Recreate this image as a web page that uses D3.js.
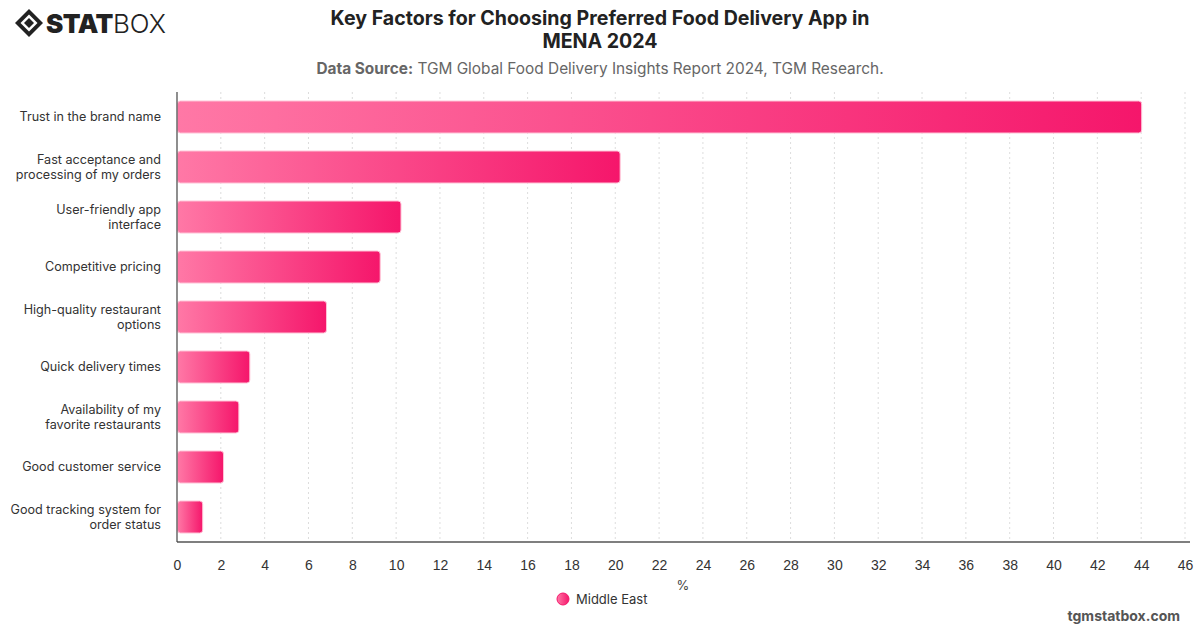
<!DOCTYPE html>
<html lang="en">
<head>
<meta charset="UTF-8">
<title>Key Factors for Choosing Preferred Food Delivery App in MENA 2024</title>
<script src="https://cdn.jsdelivr.net/npm/d3@7"></script>
<style>
    body { margin: 0; background: #fff; font-family: Inter, "Noto Sans", sans-serif; }
    .tick text { font-size: 14px; fill: #333; }
    .grid line { stroke: #ddd; stroke-dasharray: 2,3; }
</style>
</head>
<body>
<svg id="chart" width="1200" height="628"></svg>
<script>
    // data
    const categories = [
        "Trust in the brand name",
        "Fast acceptance and processing of my orders",
        "User-friendly app interface",
        "Competitive pricing",
        "High-quality restaurant options",
        "Quick delivery times",
        "Availability of my favorite restaurants",
        "Good customer service",
        "Good tracking system for order status"
    ];
    // label lines as wrapped in the picture
    const labelLines = [
        ["Trust in the brand name"],
        ["Fast acceptance and", "processing of my orders"],
        ["User-friendly app", "interface"],
        ["Competitive pricing"],
        ["High-quality restaurant", "options"],
        ["Quick delivery times"],
        ["Availability of my", "favorite restaurants"],
        ["Good customer service"],
        ["Good tracking system for", "order status"]
    ];
    const middleEast = [44.0, 20.2, 10.2, 9.25, 6.8, 3.3, 2.8, 2.1, 1.15];
    const xTicks = d3.range(0, 47, 2);

    const svg = d3.select("#chart");
    const margin = { top: 92, right: 10, bottom: 86, left: 177 };
    const width = 1200, height = 628;
    const innerW = width - margin.left - margin.right;
    const innerH = height - margin.top - margin.bottom;

    const x = d3.scaleLinear().domain([0, 46]).range([0, 1008]);
    const y = d3.scaleBand().domain(categories).range([0, innerH]).paddingInner(0.36).paddingOuter(0.18);

    // gradient
    const defs = svg.append("defs");
    const grad = defs.append("linearGradient")
        .attr("id", "barGrad")
        .attr("x1", "0%").attr("x2", "100%").attr("y1", "0%").attr("y2", "0%");
    grad.append("stop").attr("offset", "0%").attr("stop-color", "#ff78a6");
    grad.append("stop").attr("offset", "100%").attr("stop-color", "#f5166b");

    const g = svg.append("g").attr("transform", `translate(${margin.left},${margin.top})`);

    // grid
    g.append("g").attr("class", "grid")
        .selectAll("line").data(xTicks.slice(1)).enter().append("line")
        .attr("x1", d => x(d)).attr("x2", d => x(d))
        .attr("y1", 0).attr("y2", innerH);

    // bars
    g.selectAll("rect.bar").data(middleEast).enter().append("rect")
        .attr("class", "bar")
        .attr("x", 0.5)
        .attr("y", (d, i) => y(categories[i]))
        .attr("width", d => x(d))
        .attr("height", y.bandwidth())
        .attr("rx", 3)
        .attr("fill", "url(#barGrad)")
        .attr("stroke", "#ffc2d6")
        .attr("stroke-width", 1);

    // x axis
    const xAxis = g.append("g")
        .attr("transform", `translate(0,${innerH})`)
        .call(d3.axisBottom(x).tickValues(xTicks).tickSize(0).tickPadding(18));
    xAxis.select(".domain").attr("stroke", "#555").attr("stroke-width", 1.5)
        .attr("d", `M0,0H${innerW}`);

    // y axis line
    g.append("line").attr("x1", 0).attr("x2", 0).attr("y1", 0).attr("y2", innerH)
        .attr("stroke", "#444").attr("stroke-width", 1.2);

    // y labels
    const lab = g.append("g").selectAll("text").data(labelLines).enter().append("text")
        .attr("text-anchor", "end")
        .attr("font-size", 12.6)
        .attr("fill", "#333")
        .attr("transform", (d, i) => `translate(-16,${y(categories[i]) + y.bandwidth() / 2})`);
    lab.each(function(lines) {
        const t = d3.select(this);
        const n = lines.length;
        lines.forEach((l, k) => {
            t.append("tspan").attr("x", 0)
                .attr("y", (k - (n - 1) / 2) * 15)
                .attr("dy", "0.35em")
                .text(l);
        });
    });

    // x axis title
    svg.append("text").attr("x", 683).attr("y", 590)
        .attr("text-anchor", "middle").attr("font-size", 13).attr("fill", "#444").text("%");

    // legend
    svg.append("circle").attr("cx", 563).attr("cy", 599).attr("r", 6)
        .attr("fill", "url(#barGrad)").attr("stroke", "#f5166b").attr("stroke-width", 1);
    svg.append("text").attr("x", 576).attr("y", 604)
        .attr("font-size", 13).attr("fill", "#333").text("Middle East");

    // title
    const title = svg.append("text").attr("text-anchor", "middle")
        .attr("font-size", 19.6).attr("font-weight", "bold").attr("fill", "#222");
    title.append("tspan").attr("x", 600).attr("y", 25).text("Key Factors for Choosing Preferred Food Delivery App in");
    title.append("tspan").attr("x", 600).attr("y", 48).text("MENA 2024");

    const sub = svg.append("text").attr("x", 600).attr("y", 74).attr("text-anchor", "middle")
        .attr("font-size", 15.4).attr("fill", "#666");
    sub.append("tspan").attr("font-weight", "bold").text("Data Source:");
    sub.append("tspan").text(" TGM Global Food Delivery Insights Report 2024, TGM Research.");

    // logo
    const logo = svg.append("g").attr("transform", "translate(15,9)");
    logo.append("path").attr("d", "M14,0 L28,14 L14,28 L0,14 Z").attr("fill", "#222");
    logo.append("path").attr("d", "M14,5.5 L22.5,14 L14,22.5 L5.5,14 Z").attr("fill", "#fff");
    logo.append("path").attr("d", "M14,9 L19,14 L14,19 L9,14 Z").attr("fill", "#222");
    const lt = logo.append("text").attr("x", 31).attr("y", 24).attr("font-size", 26).attr("fill", "#222");
    lt.append("tspan").attr("font-weight", 900).attr("letter-spacing", -0.5).text("STAT");
    lt.append("tspan").attr("font-weight", 300).text("BOX");

    // footer
    svg.append("text").attr("x", 1180).attr("y", 621).attr("text-anchor", "end")
        .attr("font-size", 14).attr("font-weight", "bold").attr("fill", "#555").text("tgmstatbox.com");
</script>
</body>
</html>
